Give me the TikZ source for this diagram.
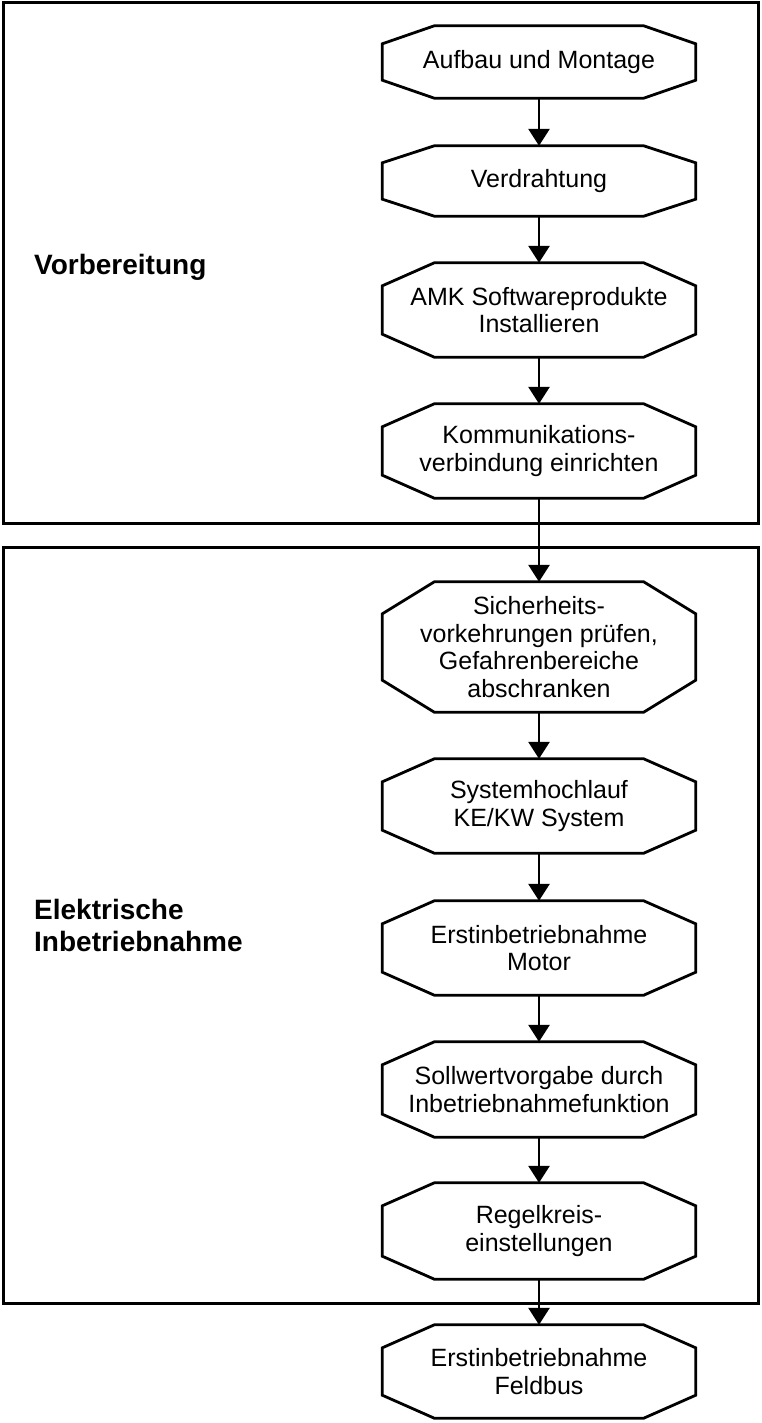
\documentclass[tikz,border=0pt]{standalone}
\usepackage{fontspec}
\setmainfont{Liberation Sans}
\usetikzlibrary{arrows.meta}
\tikzset{
  boxtext/.style={inner sep=0pt, minimum width=313pt, align=center,
    font=\fontsize{25}{27.5}\selectfont},
  boxline/.style={line width=2.8pt, line join=miter},
  frameline/.style={line width=3pt},
  flow/.style={line width=2.8pt, -{Triangle[width=21pt,length=17pt]}},
  phase/.style={inner sep=0pt, anchor=west, align=left,
    font=\fontsize{28}{32}\selectfont\bfseries}
}
\newcommand\octo[2]{%
  \draw[boxline] ([xshift=52pt]#1.north west) -- ([xshift=-52pt]#1.north east)
    -- ([yshift=-#2pt]#1.north east) -- ([yshift=#2pt]#1.south east)
    -- ([xshift=-52pt]#1.south east) -- ([xshift=52pt]#1.south west)
    -- ([yshift=#2pt]#1.south west) -- ([yshift=-#2pt]#1.north west) -- cycle;}
\begin{document}
\begin{tikzpicture}[x=1pt,y=-1pt]
\useasboundingbox (0,0) rectangle (761,1423);
% frames
\draw[frameline] (3,3) rectangle (758,523);
\draw[frameline] (3,547) rectangle (758,1303);
% phase labels
\node[phase] (p1) at (34,267) {Vorbereitung};
\node[phase] (p2) at (34,925) {Elektrische\\Inbetriebnahme};
% boxes
\node[boxtext, minimum height=72pt] (b1) at (539,62) {Aufbau und Montage};
\node[boxtext, minimum height=70pt] (b2) at (539,181) {Verdrahtung};
\node[boxtext, minimum height=94pt] (b3) at (539,310) {AMK Softwareprodukte\\Installieren};
\node[boxtext, minimum height=94pt] (b4) at (539,451) {Kommunikations-\\verbindung einrichten};
\node[boxtext, minimum height=130pt] (b5) at (539,647) {Sicherheits-\\vorkehrungen prüfen,\\Gefahrenbereiche\\abschranken};
\node[boxtext, minimum height=94pt] (b6) at (539,806) {Systemhochlauf\\KE/KW System};
\node[boxtext, minimum height=94pt] (b7) at (539,948) {Erstinbetriebnahme\\Motor};
\node[boxtext, minimum height=95pt] (b8) at (539,1089.5) {Sollwertvorgabe durch\\Inbetriebnahmefunktion};
\node[boxtext, minimum height=96pt] (b9) at (539,1231) {Regelkreis-\\einstellungen};
\node[boxtext, minimum height=93pt] (b10) at (539,1371.5) {Erstinbetriebnahme\\Feldbus};
\foreach \n/\c in {b1/18,b2/17,b3/23,b4/23,b5/32,b6/23,b7/23,b8/23,b9/23,b10/23}{\octo{\n}{\c}}
% connectors
\foreach \a/\b in {b1/b2,b2/b3,b3/b4,b4/b5,b5/b6,b6/b7,b7/b8,b8/b9,b9/b10}{
  \draw[flow] (\a.south) -- (\b.north);}
\end{tikzpicture}
\end{document}
